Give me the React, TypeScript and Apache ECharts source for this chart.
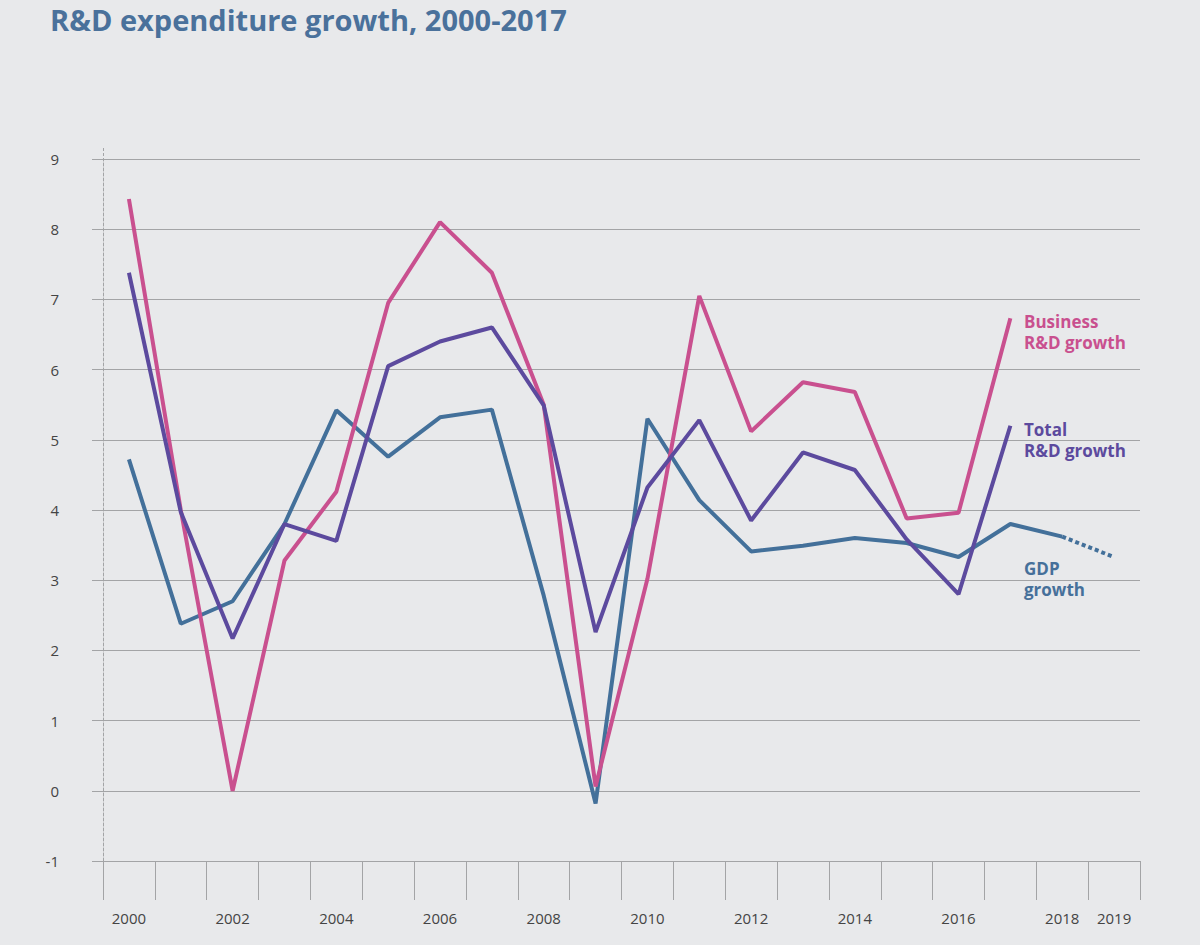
import React, { useEffect, useRef } from "react";
import * as echarts from "echarts";

const years = [
  "2000", "2001", "2002", "2003", "2004", "2005", "2006", "2007", "2008", "2009",
  "2010", "2011", "2012", "2013", "2014", "2015", "2016", "2017", "2018", "2019",
];
const yTicks = [-1, 0, 1, 2, 3, 4, 5, 6, 7, 8, 9];

const businessRD = [8.43, 4.0, 0.0, 3.28, 4.26, 6.95, 8.1, 7.38, 5.5, 0.06, 3.02, 7.05, 5.12, 5.82, 5.68, 3.88, 3.96, 6.73, null, null];
const totalRD = [7.38, 3.97, 2.17, 3.8, 3.56, 6.05, 6.4, 6.6, 5.49, 2.26, 4.32, 5.28, 3.85, 4.82, 4.57, 3.58, 2.8, 5.2, null, null];
const gdp = [4.72, 2.38, 2.7, 3.8, 5.42, 4.76, 5.32, 5.43, 2.78, -0.18, 5.3, 4.14, 3.41, 3.49, 3.6, 3.53, 3.33, 3.8, 3.62, null];
const gdpForecast = [null, null, null, null, null, null, null, null, null, null, null, null, null, null, null, null, null, null, 3.62, 3.33];

const seriesLabels = [
  { lines: ["Business", "R&D growth"], color: "#c9508f", x: 1024, y: 313 },
  { lines: ["Total", "R&D growth"], color: "#5c4a9e", x: 1024, y: 421 },
  { lines: ["GDP", "growth"], color: "#46709a", x: 1024, y: 560 },
];

const PINK = "#c9508f";
const PURPLE = "#5c4a9e";
const BLUE = "#43709a";
const GRID = "#a3a4a6";

export default function App() {
  const ref = useRef<HTMLDivElement>(null);

  useEffect(() => {
    if (!ref.current) return;
    const chart = echarts.init(ref.current, undefined, { renderer: "svg" });
    const font = "'Open Sans', 'Noto Sans', sans-serif";

    const graphics: any[] = [
      {
        type: "text",
        left: 50,
        top: 5,
        style: {
          text: "R&D expenditure growth, 2000-2017",
          fill: "#4a719b",
          font: `700 29px ${font}`,
        },
      },
      {
        type: "line",
        shape: { x1: 103.5, y1: 148, x2: 103.5, y2: 159 },
        style: { stroke: GRID, lineWidth: 1, lineDash: [3, 2] },
      },
    ];
    seriesLabels.forEach((l) => {
      l.lines.forEach((line, i) => {
        graphics.push({
          type: "text",
          left: l.x,
          top: l.y + i * 21,
          style: {
            text: line,
            fill: l.color,
            font: `700 17px ${font}`,
          },
        });
      });
    });

    chart.setOption({
      animation: false,
      backgroundColor: "#e8e9eb",
      textStyle: { fontFamily: font },
      grid: { left: 103, right: 60, top: 159, bottom: 84, containLabel: false },
      xAxis: {
        type: "category",
        data: years,
        boundaryGap: true,
        axisLine: { show: true, onZero: false, lineStyle: { color: GRID, width: 1 } },
        axisTick: { show: true, interval: 0, length: 39, lineStyle: { color: GRID, width: 1 } },
        axisLabel: {
          interval: (index: number, value: string) => index % 2 === 0 || value === "2019",
          color: "#444",
          fontSize: 15,
          margin: 49,
          fontFamily: font,
        },
        splitLine: { show: false },
      },
      yAxis: {
        type: "value",
        min: yTicks[0],
        max: yTicks[yTicks.length - 1],
        interval: 1,
        axisLine: { show: true, lineStyle: { color: GRID, width: 1, type: [3, 2] } },
        axisTick: { show: true, length: 11, lineStyle: { color: GRID, width: 1 } },
        axisLabel: { color: "#444", fontSize: 15, margin: 44, fontFamily: font },
        splitLine: { show: true, lineStyle: { color: GRID, width: 1 } },
      },
      series: [
        {
          name: "GDP growth",
          type: "line",
          data: gdp,
          showSymbol: false,
          symbol: "none",
          lineStyle: { color: BLUE, width: 4 },
          z: 2,
        },
        {
          name: "GDP forecast",
          type: "line",
          data: gdpForecast,
          showSymbol: false,
          symbol: "none",
          lineStyle: { color: BLUE, width: 4, type: [4, 3] },
          z: 2,
        },
        {
          name: "Business R&D growth",
          type: "line",
          data: businessRD,
          showSymbol: false,
          symbol: "none",
          lineStyle: { color: PINK, width: 4 },
          z: 3,
        },
        {
          name: "Total R&D growth",
          type: "line",
          data: totalRD,
          showSymbol: false,
          symbol: "none",
          lineStyle: { color: PURPLE, width: 4 },
          z: 4,
        },
      ],
      graphic: graphics,
    });

    return () => chart.dispose();
  }, []);

  return (
    <div
      ref={ref}
      style={{ position: "fixed", left: 0, top: 0, width: 1200, height: 945 }}
    />
  );
}
